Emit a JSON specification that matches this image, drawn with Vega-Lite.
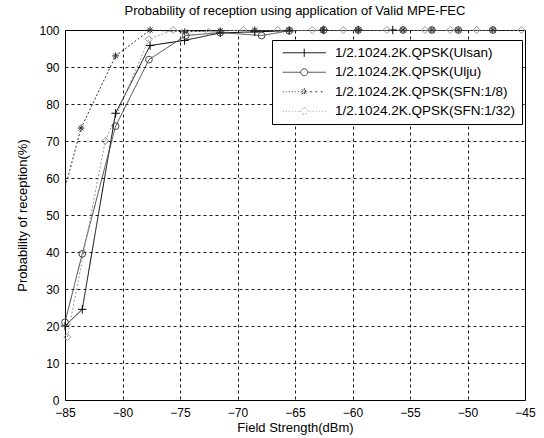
{
  "$schema": "https://vega.github.io/schema/vega-lite/v6.json",
  "width": 460,
  "height": 370,
  "autosize": {"type": "none"},
  "padding": {"left": 65, "top": 30, "right": 19, "bottom": 38},
  "background": "white",
  "title": {
    "text": "Probability of reception using application of Valid MPE-FEC",
    "font": "Liberation Sans",
    "fontSize": 13,
    "fontWeight": "normal",
    "color": "black",
    "offset": 6
  },
  "data": {
    "values": [
      {"s": "1/2.1024.2K.QPSK(Ulsan)", "x": -85, "y": 20},
      {"s": "1/2.1024.2K.QPSK(Ulsan)", "x": -83.5, "y": 24.5},
      {"s": "1/2.1024.2K.QPSK(Ulsan)", "x": -80.6, "y": 77.5},
      {"s": "1/2.1024.2K.QPSK(Ulsan)", "x": -77.6, "y": 95.8},
      {"s": "1/2.1024.2K.QPSK(Ulsan)", "x": -74.6, "y": 97.2},
      {"s": "1/2.1024.2K.QPSK(Ulsan)", "x": -71.5, "y": 99.2},
      {"s": "1/2.1024.2K.QPSK(Ulsan)", "x": -68.5, "y": 99.5},
      {"s": "1/2.1024.2K.QPSK(Ulsan)", "x": -65.5, "y": 99.8},
      {"s": "1/2.1024.2K.QPSK(Ulsan)", "x": -62.5, "y": 100},
      {"s": "1/2.1024.2K.QPSK(Ulsan)", "x": -59.5, "y": 100},
      {"s": "1/2.1024.2K.QPSK(Ulsan)", "x": -56.5, "y": 100},
      {"s": "1/2.1024.2K.QPSK(Ulju)", "x": -85, "y": 21},
      {"s": "1/2.1024.2K.QPSK(Ulju)", "x": -83.5, "y": 39.5},
      {"s": "1/2.1024.2K.QPSK(Ulju)", "x": -80.6, "y": 74},
      {"s": "1/2.1024.2K.QPSK(Ulju)", "x": -77.7, "y": 92},
      {"s": "1/2.1024.2K.QPSK(Ulju)", "x": -74.5, "y": 98.5},
      {"s": "1/2.1024.2K.QPSK(Ulju)", "x": -71.5, "y": 99.3},
      {"s": "1/2.1024.2K.QPSK(Ulju)", "x": -67.9, "y": 98.5},
      {"s": "1/2.1024.2K.QPSK(Ulju)", "x": -65.5, "y": 99.8},
      {"s": "1/2.1024.2K.QPSK(Ulju)", "x": -62.5, "y": 100},
      {"s": "1/2.1024.2K.QPSK(Ulju)", "x": -59.5, "y": 100},
      {"s": "1/2.1024.2K.QPSK(Ulju)", "x": -55.6, "y": 100},
      {"s": "1/2.1024.2K.QPSK(Ulju)", "x": -53.1, "y": 100},
      {"s": "1/2.1024.2K.QPSK(Ulju)", "x": -50.8, "y": 100},
      {"s": "1/2.1024.2K.QPSK(Ulju)", "x": -47.8, "y": 100},
      {"s": "1/2.1024.2K.QPSK(SFN:1/8)", "x": -86.5, "y": 40},
      {"s": "1/2.1024.2K.QPSK(SFN:1/8)", "x": -83.6, "y": 73.5},
      {"s": "1/2.1024.2K.QPSK(SFN:1/8)", "x": -80.6, "y": 93},
      {"s": "1/2.1024.2K.QPSK(SFN:1/8)", "x": -77.6, "y": 100},
      {"s": "1/2.1024.2K.QPSK(SFN:1/8)", "x": -74.6, "y": 99.5},
      {"s": "1/2.1024.2K.QPSK(SFN:1/8)", "x": -71.5, "y": 99.8},
      {"s": "1/2.1024.2K.QPSK(SFN:1/8)", "x": -68.5, "y": 100},
      {"s": "1/2.1024.2K.QPSK(SFN:1/8)", "x": -65.5, "y": 100},
      {"s": "1/2.1024.2K.QPSK(SFN:1/8)", "x": -62.6, "y": 100},
      {"s": "1/2.1024.2K.QPSK(SFN:1/8)", "x": -59.5, "y": 100},
      {"s": "1/2.1024.2K.QPSK(SFN:1/8)", "x": -55.6, "y": 100},
      {"s": "1/2.1024.2K.QPSK(SFN:1/8)", "x": -53.1, "y": 100},
      {"s": "1/2.1024.2K.QPSK(SFN:1/8)", "x": -50.8, "y": 100},
      {"s": "1/2.1024.2K.QPSK(SFN:1/8)", "x": -47.8, "y": 100},
      {"s": "1/2.1024.2K.QPSK(SFN:1/32)", "x": -84.8, "y": 17},
      {"s": "1/2.1024.2K.QPSK(SFN:1/32)", "x": -81.5, "y": 70},
      {"s": "1/2.1024.2K.QPSK(SFN:1/32)", "x": -77.7, "y": 97.5},
      {"s": "1/2.1024.2K.QPSK(SFN:1/32)", "x": -75.6, "y": 100},
      {"s": "1/2.1024.2K.QPSK(SFN:1/32)", "x": -72.5, "y": 99.5},
      {"s": "1/2.1024.2K.QPSK(SFN:1/32)", "x": -69.5, "y": 100},
      {"s": "1/2.1024.2K.QPSK(SFN:1/32)", "x": -66.5, "y": 100},
      {"s": "1/2.1024.2K.QPSK(SFN:1/32)", "x": -63.5, "y": 100},
      {"s": "1/2.1024.2K.QPSK(SFN:1/32)", "x": -60.8, "y": 100},
      {"s": "1/2.1024.2K.QPSK(SFN:1/32)", "x": -57, "y": 100},
      {"s": "1/2.1024.2K.QPSK(SFN:1/32)", "x": -53.7, "y": 100},
      {"s": "1/2.1024.2K.QPSK(SFN:1/32)", "x": -51.5, "y": 100},
      {"s": "1/2.1024.2K.QPSK(SFN:1/32)", "x": -49.2, "y": 100},
      {"s": "1/2.1024.2K.QPSK(SFN:1/32)", "x": -45.3, "y": 100}
    ]
  },
  "encoding": {
    "x": {
      "field": "x", "type": "quantitative",
      "scale": {"domain": [-85, -45], "nice": false, "zero": false},
      "axis": {
        "values": [-85, -80, -75, -70, -65, -60, -55, -50, -45],
        "title": "Field Strength(dBm)",
        "labelPadding": 7,
        "titlePadding": 3,
        "labelFlush": false
      }
    },
    "y": {
      "field": "y", "type": "quantitative",
      "scale": {"domain": [0, 100], "nice": false},
      "axis": {
        "values": [0, 10, 20, 30, 40, 50, 60, 70, 80, 90, 100],
        "title": "Probability of reception(%)",
        "labelPadding": 6,
        "titlePadding": 9
      }
    },
    "color": {
      "field": "s", "type": "nominal",
      "scale": {
        "domain": ["1/2.1024.2K.QPSK(Ulsan)", "1/2.1024.2K.QPSK(Ulju)", "1/2.1024.2K.QPSK(SFN:1/8)", "1/2.1024.2K.QPSK(SFN:1/32)"],
        "range": ["#000000", "#444444", "#333333", "#9a9a9a"]
      },
      "legend": {
        "orient": "none",
        "legendX": 207,
        "legendY": 10,
        "title": null,
        "strokeColor": "black",
        "fillColor": "white",
        "padding": 6,
        "symbolSize": 100,
        "symbolOffset": 19.5,
        "labelOffset": 24,
        "labelFontSize": 13.5,
        "labelFont": "Liberation Sans",
        "labelColor": "black",
        "labelLimit": 300,
        "rowPadding": 4.5,
        "symbolStrokeWidth": 1,
        "encode": {
          "symbols": {
            "update": {
              "shape": {"signal": "datum.index === 0 ? 'M-4.3,0L4.3,0M0,-0.8L0,0.8' : datum.index === 1 ? 'M-4.3,0L-0.7,0M0.7,0L4.3,0M-0.7,0A0.7,0.7,0,1,1,0.7,0A0.7,0.7,0,1,1,-0.7,0' : datum.index === 2 ? 'M-4.3,0L-4.1,0M-3.7,0L-3.5,0M-3.1,0L-2.9,0M-2.5,0L-2.3,0M-1.9,0L-1.7,0M-1.3,0L-1.1,0M-0.7,0L0.7,0M0,-0.7L0,0.7M-0.5,-0.5L0.5,0.5M-0.5,0.5L0.5,-0.5M1.1,0L1.7,0M2.2,0L2.8,0M3.3,0L3.9,0' : 'M-4.3,0L-4.1,0M-3.7,0L-3.5,0M-3.1,0L-2.9,0M-2.5,0L-2.3,0M-1.9,0L-1.7,0M-1.3,0L-1.1,0M0,-0.8L0.8,0L0,0.8L-0.8,0ZM1.1,0L1.3,0M1.7,0L1.9,0M2.3,0L2.5,0M2.9,0L3.1,0M3.5,0L3.7,0M4.1,0L4.3,0'"},
              "strokeDash": {"value": []},
              "fill": {"value": "transparent"},
              "strokeWidth": {"value": 1}
            }
          }
        }
      }
    }
  },
  "layer": [
    {
      "mark": {"type": "line", "clip": true, "strokeWidth": 1},
      "encoding": {
        "strokeDash": {
          "field": "s", "type": "nominal",
          "scale": {
            "domain": ["1/2.1024.2K.QPSK(Ulsan)", "1/2.1024.2K.QPSK(Ulju)", "1/2.1024.2K.QPSK(SFN:1/8)", "1/2.1024.2K.QPSK(SFN:1/32)"],
            "range": [[1, 0], [1, 0], [2, 2], [2, 2]]
          },
          "legend": null
        }
      }
    },
    {
      "transform": [{"filter": "datum.s === '1/2.1024.2K.QPSK(Ulsan)' && datum.x >= -85"}],
      "mark": {"type": "point", "filled": false, "strokeWidth": 1, "opacity": 1, "size": 72, "shape": "M-1,0L1,0M0,-1L0,1"}
    },
    {
      "transform": [{"filter": "datum.s === '1/2.1024.2K.QPSK(Ulju)' && datum.x >= -85"}],
      "mark": {"type": "point", "filled": false, "strokeWidth": 1, "opacity": 1, "size": 45, "shape": "circle"}
    },
    {
      "transform": [{"filter": "datum.s === '1/2.1024.2K.QPSK(SFN:1/8)' && datum.x >= -85"}],
      "mark": {"type": "point", "filled": false, "strokeWidth": 1, "opacity": 1, "size": 49, "shape": "M-1,0L1,0M0,-1L0,1M-0.7,-0.7L0.7,0.7M-0.7,0.7L0.7,-0.7"}
    },
    {
      "transform": [{"filter": "datum.s === '1/2.1024.2K.QPSK(SFN:1/32)' && datum.x >= -85"}],
      "mark": {"type": "point", "filled": false, "strokeWidth": 1, "opacity": 1, "size": 50, "shape": "diamond"}
    }
  ],
  "config": {
    "view": {"stroke": "black", "strokeWidth": 1},
    "axis": {
      "domain": false,
      "ticks": false,
      "grid": true,
      "gridColor": "#000000",
      "gridDash": [3, 3],
      "gridOpacity": 0.9,
      "labelFont": "Liberation Sans",
      "labelFontSize": 12,
      "labelColor": "black",
      "titleFont": "Liberation Sans",
      "titleFontSize": 13,
      "titleFontWeight": "normal",
      "titleColor": "black"
    }
  }
}
